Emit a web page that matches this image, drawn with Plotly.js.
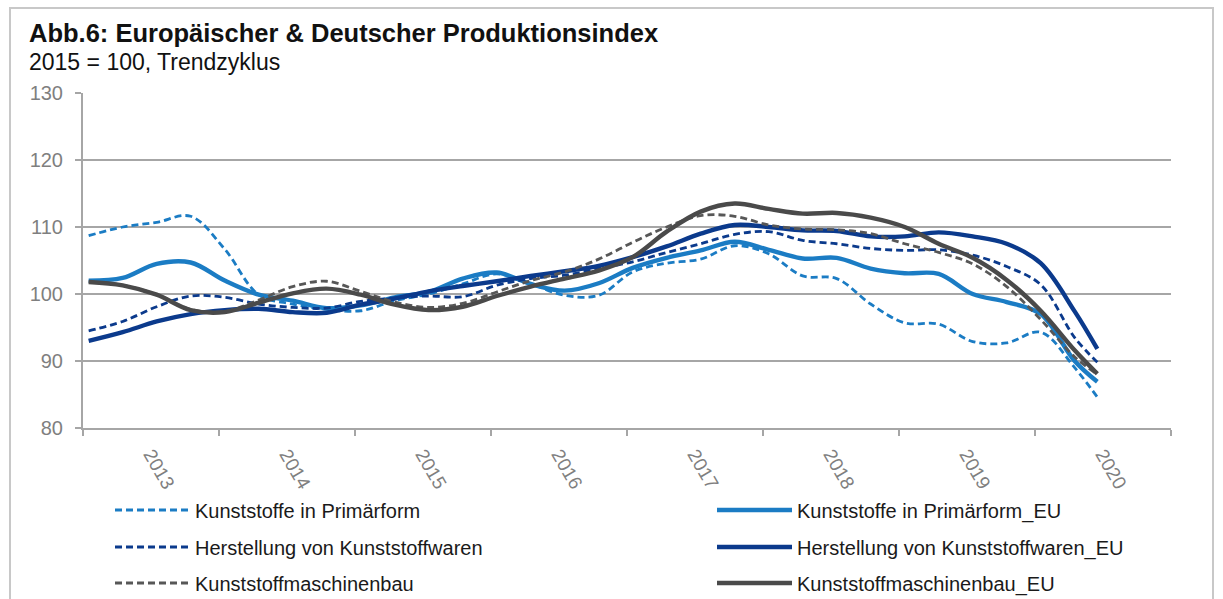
<!DOCTYPE html>
<html><head><meta charset="utf-8">
<script src="https://cdn.plot.ly/plotly-3.0.1.min.js"></script>
<style>html,body{margin:0;padding:0;background:#fff;} #chart{width:1223px;height:599px;}</style>
</head><body><div id="chart"></div>
<script>
// Category labels (years) and sampled months (months since Jan 2013)
const years = ['2013','2014','2015','2016','2017','2018','2019','2020'];
const sampleMonths = [0,3,6,9,12,15,18,21,24,27,30,33,36,39,42,45,48,51,54,57,60,63,66,69,72,75,78,81,84,87,89];

// Series values (2015 = 100, Trendzyklus)
const primaerformDE = [108.7,110.0,110.7,111.6,106.7,99.9,98.5,97.7,97.5,99.0,100.0,101.5,103.0,101.5,99.8,99.8,103.3,104.6,105.2,107.2,106.0,102.7,102.3,98.5,95.7,95.5,92.9,92.7,94.3,89.0,84.6];
const primaerformEU = [102.0,102.4,104.5,104.7,102.0,99.9,99.0,97.9,98.3,99.5,100.3,102.3,103.2,101.5,100.5,101.6,103.9,105.4,106.5,107.8,106.6,105.3,105.4,103.8,103.1,103.0,100.0,98.8,97.0,90.0,86.9];
const warenDE = [94.5,95.9,98.1,99.7,99.5,98.5,98.0,97.9,98.9,99.4,99.7,99.6,101.3,102.3,102.8,103.8,104.8,106.2,107.5,108.9,109.3,108.0,107.5,106.8,106.5,106.6,105.8,104.1,101.4,93.5,89.8];
const warenEU = [93.0,94.3,95.9,97.0,97.6,97.8,97.3,97.2,98.4,99.3,100.4,101.2,101.9,102.7,103.4,104.2,105.5,107.1,109.0,110.3,110.0,109.5,109.4,108.6,108.6,109.2,108.6,107.5,104.6,97.4,91.8];
const maschinenDE = [101.8,101.3,99.9,97.7,97.4,99.1,101.1,101.9,100.4,98.8,98.0,98.6,100.3,102.0,103.3,105.2,107.7,110.0,111.7,111.6,110.3,109.7,109.6,109.0,107.5,106.2,104.5,101.1,96.2,90.6,88.0];
const maschinenEU = [101.8,101.3,99.9,97.6,97.3,98.7,100.1,100.8,99.9,98.4,97.6,98.1,99.7,101.1,102.3,103.5,105.5,109.3,112.3,113.5,112.7,112.0,112.1,111.4,110.0,107.5,105.4,102.1,97.5,91.6,88.1];

const seriesNames = ['Kunststoffe in Primärform','Kunststoffe in Primärform_EU','Herstellung von Kunststoffwaren','Herstellung von Kunststoffwaren_EU','Kunststoffmaschinenbau','Kunststoffmaschinenbau_EU'];
const seriesValues = [primaerformDE, primaerformEU, warenDE, warenEU, maschinenDE, maschinenEU];

const LIGHT = '#1b7cc4', DARK = '#0b3a8c', GREY = '#4a4a4a', GREYD = '#575757';
const styles = [
  {color: LIGHT, width: 2.8, dash: '7px,4px'},
  {color: LIGHT, width: 4.4, dash: 'solid'},
  {color: DARK, width: 2.8, dash: '7px,4px'},
  {color: DARK, width: 4.4, dash: 'solid'},
  {color: GREYD, width: 2.8, dash: '7px,4px'},
  {color: GREY, width: 4.4, dash: 'solid'}
];
const legendIds = ['legend','legend','legend2','legend2','legend3','legend3'];
const legendWidths = [512, 400, 512, 400, 512, 400];

const xs = sampleMonths.map(m => 2013 + (m + 0.5) / 12);
const traces = seriesValues.map((vals, k) => ({
  type: 'scatter', mode: 'lines', x: xs, y: vals, name: seriesNames[k],
  line: Object.assign({shape: 'spline', smoothing: 1}, styles[k]),
  legend: legendIds[k], legendwidth: legendWidths[k], hoverinfo: 'skip'
}));

const FONT = 'Liberation Sans, Arial, sans-serif';
const AXC = '#a6a6a6';
const L = 83, R = 52, T = 93, B = 171, W = 1223, H = 599;
const pw = W - L - R, ph = H - T - B;
const px = v => (v - L) / pw, py = v => (H - B - v) / ph;

const legendBase = {
  orientation: 'h', xref: 'container', yref: 'container', x: 110 / W, xanchor: 'left', yanchor: 'middle',
  itemwidth: 75, entrywidthmode: 'pixels', font: {family: FONT, size: 20, color: '#1a1a1a'},
  bgcolor: 'rgba(0,0,0,0)', itemclick: false, itemdoubleclick: false
};

const layout = {
  width: W, height: H, margin: {l: L, r: R, t: T, b: B},
  paper_bgcolor: '#fff', plot_bgcolor: '#fff',
  font: {family: FONT},
  title: {text: '<b>Abb.6: Europäischer &amp; Deutscher Produktionsindex</b>', font: {family: FONT, size: 25.5, color: '#111'},
          xref: 'container', yref: 'container', x: 29 / W, xanchor: 'left', y: 1 - 33 / H, yanchor: 'middle'},
  annotations: [{text: '2015 = 100, Trendzyklus', xref: 'paper', yref: 'paper', x: px(27), y: py(62),
                 xanchor: 'left', yanchor: 'middle', showarrow: false, font: {family: FONT, size: 23, color: '#111'}}],
  xaxis: {
    range: [2013, 2021], fixedrange: true,
    tickmode: 'array', tickvals: years.map(y => +y + 0.5), ticktext: years,
    tickangle: 60, ticks: '', tickfont: {family: FONT, size: 19, color: '#7f7f7f'}, ticklabelstandoff: 6,
    showgrid: false, zeroline: false, showline: true, linecolor: AXC, linewidth: 2,
    minor: {tickmode: 'array', tickvals: [2013,2014,2015,2016,2017,2018,2019,2020,2021], ticks: 'outside', ticklen: 6, tickwidth: 2, tickcolor: AXC, showgrid: false}
  },
  yaxis: {
    range: [80, 130], dtick: 10, tick0: 80, fixedrange: true,
    ticks: 'outside', ticklen: 6, tickwidth: 2, tickcolor: AXC,
    tickfont: {family: FONT, size: 20, color: '#7f7f7f'}, ticklabelstandoff: 8,
    showgrid: true, gridcolor: AXC, gridwidth: 2, zeroline: false,
    showline: true, linecolor: AXC, linewidth: 2
  },
  legend: Object.assign({}, legendBase, {y: 1 - 510 / H}),
  legend2: Object.assign({}, legendBase, {y: 1 - 547 / H}),
  legend3: Object.assign({}, legendBase, {y: 1 - 583 / H}),
  shapes: [{type: 'rect', xref: 'paper', yref: 'paper', x0: px(10), x1: px(1213), y0: py(8), y1: py(612),
            line: {color: '#c8c8c8', width: 2}, layer: 'below'}]
};

Plotly.newPlot('chart', traces, layout, {displayModeBar: false, staticPlot: true});
</script></body></html>
